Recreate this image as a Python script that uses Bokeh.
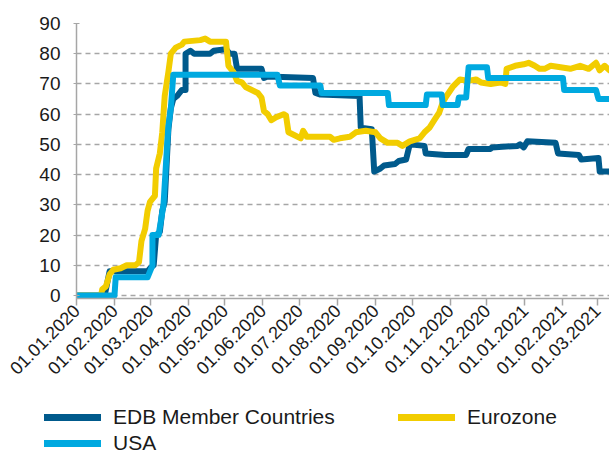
from math import pi
import pandas as pd
from bokeh.plotting import figure
from bokeh.layouts import column, row
from bokeh.models import (Legend, LegendItem, DatetimeTickFormatter, MonthsTicker,
                          Range1d, FixedTicker, ColumnDataSource)
from bokeh.embed import file_html
from bokeh.resources import INLINE

# ---------------- data ----------------
edb_dates = ["2020-01-01", "2020-01-24", "2020-01-28", "2020-02-28", "2020-03-01", "2020-03-04",
             "2020-03-06", "2020-03-09", "2020-03-11", "2020-03-13", "2020-03-16", "2020-03-18",
             "2020-03-20", "2020-03-23", "2020-03-27", "2020-03-30", "2020-03-30", "2020-04-03",
             "2020-04-06", "2020-04-19", "2020-04-22", "2020-05-02", "2020-05-05", "2020-05-09",
             "2020-05-11", "2020-05-31", "2020-06-02", "2020-06-05", "2020-07-12", "2020-07-14",
             "2020-07-18", "2020-08-19", "2020-08-20", "2020-08-29", "2020-08-31", "2020-09-05",
             "2020-09-08", "2020-09-17", "2020-09-20", "2020-09-26", "2020-09-29", "2020-10-11",
             "2020-10-12", "2020-10-28", "2020-11-14", "2020-11-16", "2020-12-04", "2020-12-05",
             "2020-12-26", "2020-12-28", "2020-12-31", "2021-01-03", "2021-01-26", "2021-01-28",
             "2021-02-14", "2021-02-16", "2021-03-02", "2021-03-03", "2021-03-11"]
edb_values = [0, 0, 8, 8, 9, 10,
              20, 21, 28, 31, 55, 62,
              65, 66, 68, 68, 80, 81,
              80, 80, 81, 81.5, 80, 80,
              75, 75, 72, 72.5, 72, 67,
              66.5, 66, 55.5, 55, 41, 42,
              43, 43.5, 44.5, 45, 50, 49.5,
              47, 46.5, 46.5, 48.5, 48.5, 49,
              49.5, 50, 49, 51, 50.5, 47,
              46.5, 45, 45.5, 41, 41]

eur_dates = ["2020-01-01", "2020-01-21", "2020-01-22", "2020-01-25", "2020-01-28", "2020-01-31",
             "2020-02-06", "2020-02-11", "2020-02-18", "2020-02-21", "2020-02-23", "2020-02-26",
             "2020-02-28", "2020-03-01", "2020-03-05", "2020-03-06", "2020-03-09", "2020-03-11",
             "2020-03-13", "2020-03-16", "2020-03-18", "2020-03-22", "2020-03-27", "2020-03-29",
             "2020-04-11", "2020-04-15", "2020-04-19", "2020-05-02", "2020-05-04", "2020-05-08",
             "2020-05-11", "2020-05-15", "2020-05-18", "2020-05-23", "2020-05-28", "2020-05-31",
             "2020-06-02", "2020-06-05", "2020-06-08", "2020-06-12", "2020-06-18", "2020-06-20",
             "2020-06-22", "2020-06-27", "2020-07-02", "2020-07-04", "2020-07-07", "2020-07-14",
             "2020-07-26", "2020-07-29", "2020-08-03", "2020-08-11", "2020-08-16", "2020-08-24",
             "2020-09-01", "2020-09-05", "2020-09-11", "2020-09-19", "2020-09-23", "2020-09-29",
             "2020-10-07", "2020-10-11", "2020-10-15", "2020-10-19", "2020-10-23", "2020-10-26",
             "2020-10-29", "2020-11-03", "2020-11-09", "2020-11-16", "2020-11-22", "2020-11-26",
             "2020-12-04", "2020-12-12", "2020-12-16", "2020-12-17", "2020-12-24", "2020-12-31",
             "2021-01-04", "2021-01-09", "2021-01-13", "2021-01-17", "2021-01-22", "2021-01-30",
             "2021-02-07", "2021-02-15", "2021-02-22", "2021-02-28", "2021-03-03", "2021-03-07",
             "2021-03-11"]
eur_values = [0, 0, 2, 3, 7, 8.5,
              9, 10, 10, 11, 18, 22,
              28, 31, 33, 42, 47, 54,
              66, 74, 80, 82, 83, 84,
              84.5, 85, 84, 84, 76, 74,
              71, 70.5, 69, 68, 67, 65.5,
              61, 60, 58, 59, 60, 59.5,
              54, 53, 52, 54.5, 52.5, 52.5,
              52.5, 51.5, 52, 52.5, 54, 54.5,
              54, 52, 50.5, 50.5, 49.5, 51,
              52, 54, 55.5, 58, 60.5, 64,
              66, 69, 71.5, 71, 71.5, 70.5,
              70, 70.5, 70, 75, 76, 76.5,
              77, 76, 75, 75, 76, 75.5,
              75, 76, 75, 77, 74.5, 76,
              74.5]

usa_dates = ["2020-01-01", "2020-02-01", "2020-02-02", "2020-02-28", "2020-03-01", "2020-03-03",
             "2020-03-03", "2020-03-08", "2020-03-10", "2020-03-12", "2020-03-15", "2020-03-16",
             "2020-03-18", "2020-03-20", "2020-06-13", "2020-06-15", "2020-07-18", "2020-07-19",
             "2020-09-11", "2020-09-12", "2020-10-12", "2020-10-13", "2020-10-25", "2020-10-26",
             "2020-11-07", "2020-11-08", "2020-11-14", "2020-11-16", "2020-12-01", "2020-12-02",
             "2021-02-01", "2021-02-02", "2021-02-28", "2021-03-02", "2021-03-11"]
usa_values = [0, 0, 6, 6, 8, 10,
              20, 20, 25, 30, 50, 56,
              62, 73, 73, 69.5, 69.5, 67,
              67, 63, 63, 66.5, 66.5, 63,
              63, 65.5, 65.5, 75.5, 75.5, 72,
              72, 68, 68, 65, 65]

series_names = ["EDB Member Countries", "Eurozone", "USA"]
y_ticks = [0, 10, 20, 30, 40, 50, 60, 70, 80, 90]
x_start = "2020-01-01"
x_end = "2021-03-11"

# ---------------- main figure ----------------
FONT = "Liberation Sans"
TXT = "#1a1a1a"
GRID = "#a6a6a6"
colors = ["#005a8c", "#f2cd00", "#00a9e0"]

p = figure(width=609, height=400, x_axis_type="datetime",
           output_backend="svg", toolbar_location=None,
           x_range=Range1d(pd.Timestamp(x_start), pd.Timestamp(x_end)),
           y_range=Range1d(-1, 90),
           min_border_left=76, min_border_right=0,
           min_border_top=23, min_border_bottom=102)
p.outline_line_color = None
p.background_fill_color = "white"
p.border_fill_color = "white"

data = [(edb_dates, edb_values), (eur_dates, eur_values), (usa_dates, usa_values)]
for (d, v), c in zip(data, colors):
    src = ColumnDataSource(dict(x=pd.to_datetime(d), y=v))
    p.line("x", "y", source=src, line_color=c, line_width=6,
           line_join="round", line_cap="round")

# grid
p.xgrid.grid_line_color = None
p.ygrid.grid_line_color = GRID
p.ygrid.grid_line_dash = "5 4"
p.ygrid.grid_line_width = 1.3

# y axis
p.yaxis.ticker = FixedTicker(ticks=y_ticks)
p.yaxis.axis_line_color = GRID
p.yaxis.axis_line_width = 1.5
p.yaxis.major_tick_line_color = GRID
p.yaxis.major_tick_in = 3
p.yaxis.major_tick_out = 3
p.yaxis.minor_tick_line_color = None
p.yaxis.major_label_standoff = 13
p.yaxis.major_label_text_font = FONT
p.yaxis.major_label_text_font_size = "19px"
p.yaxis.major_label_text_color = TXT

# x axis
p.xaxis.ticker = MonthsTicker(months=list(range(12)))
p.xaxis.formatter = DatetimeTickFormatter(days="%d.%m.%Y", months="%d.%m.%Y", years="%d.%m.%Y")
p.xaxis.axis_line_color = GRID
p.xaxis.axis_line_width = 1.5
p.xaxis.major_tick_line_color = GRID
p.xaxis.major_tick_line_width = 1.5
p.xaxis.major_tick_in = 0
p.xaxis.major_tick_out = 7
p.xaxis.minor_tick_line_color = None
p.xaxis.major_label_orientation = pi / 4
p.xaxis.major_label_standoff = 2
p.xaxis.major_label_text_font = FONT
p.xaxis.major_label_text_font_size = "18px"
p.xaxis.major_label_text_color = TXT

# ---------------- legend strip ----------------
lf = figure(width=609, height=56, output_backend="svg", toolbar_location=None,
            x_range=Range1d(0, 1), y_range=Range1d(0, 1),
            x_axis_location=None, y_axis_location=None,
            min_border=0)
lf.outline_line_color = None
lf.grid.grid_line_color = None
lf.background_fill_color = "white"
lf.border_fill_color = "white"
dummies = []
for c in colors:
    # placeholder glyphs outside the visible range; only their legend swatch shows
    dummies.append(lf.line(x=[5, 6], y=[5, 6], line_color=c, line_width=7, line_cap="round"))

# column-major layout: first column EDB / USA, second column Eurozone
order = [0, 2, 1]
legend = Legend(items=[LegendItem(label=series_names[i], renderers=[dummies[i]]) for i in order],
                ncols=2, location=(44, 1),
                glyph_width=57, glyph_height=24, label_height=24, label_width=283,
                label_standoff=12, spacing=2, padding=0, margin=0,
                border_line_color=None, background_fill_alpha=0,
                label_text_font=FONT, label_text_font_size="21px", label_text_color=TXT)
lf.add_layout(legend, "center")

# nest the legend strip in a row so its frame is not aligned with the chart's frame
layout = column(p, row(lf, spacing=0), spacing=0)
open("out.html", "w").write(file_html(layout, INLINE))
